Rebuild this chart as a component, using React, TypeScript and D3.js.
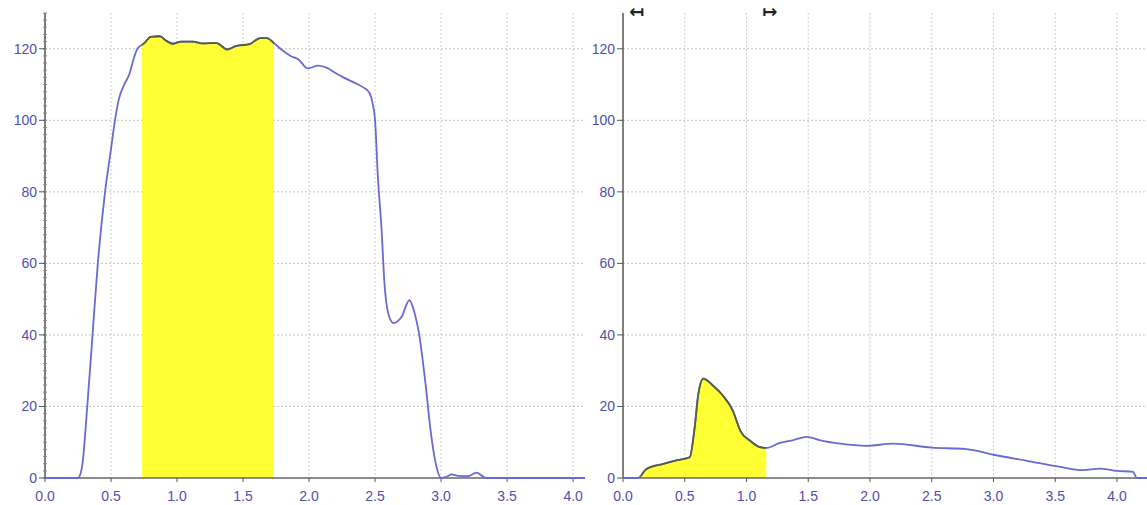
import React, { useEffect, useRef } from "react";
import { select, scaleLinear, line, area, curveMonotoneX, range } from "d3";

// left trace (x in s, y value)
const leftX = [0, 0.25, 0.28, 0.32, 0.36, 0.4, 0.455, 0.5, 0.53, 0.56, 0.6, 0.64, 0.67, 0.7, 0.75, 0.8, 0.87, 0.92, 0.97, 1.03, 1.12, 1.2, 1.3, 1.38, 1.45, 1.55, 1.63, 1.68, 1.74, 1.8, 1.86, 1.92, 1.99, 2.07, 2.14, 2.2, 2.26, 2.36, 2.42, 2.46, 2.48, 2.5, 2.52, 2.55, 2.57, 2.6, 2.64, 2.7, 2.76, 2.8, 2.83, 2.88, 2.92, 2.96, 3.0, 3.04, 3.08, 3.13, 3.2, 3.27, 3.31, 3.34, 4.09];
const leftY = [0, 0, 3, 20, 40, 60, 80, 92, 100, 106, 110, 113, 117, 120, 121.5, 123.3, 123.5, 122.2, 121.4, 122, 122, 121.5, 121.6, 119.8, 120.8, 121.3, 123, 123, 121.4, 119.5, 118, 117, 114.5, 115.3, 114.6, 113.2, 112, 110.2, 109, 107.5, 105, 100, 85, 69, 55, 46, 43.3, 45, 49.7, 46, 41, 27, 13.4, 4, 0, 0.3, 1, 0.6, 0.5, 1.5, 0.6, 0, 0];

// right trace
const rightX = [0, 0.12, 0.19, 0.32, 0.44, 0.54, 0.58, 0.61, 0.65, 0.73, 0.81, 0.89, 0.95, 1.03, 1.11, 1.16, 1.27, 1.38, 1.49, 1.59, 1.76, 1.97, 2.19, 2.5, 2.78, 3.0, 3.27, 3.54, 3.72, 3.86, 4.0, 4.13, 4.16, 4.243];
const rightY = [0, 0, 2.5, 3.9, 5, 5.8, 14, 23.5, 27.8, 25.8, 23, 18.8, 13.2, 10.4, 8.6, 8.4, 9.8, 10.6, 11.5, 10.6, 9.6, 9.0, 9.6, 8.5, 8.1, 6.5, 4.8, 3.1, 2.2, 2.6, 2.0, 1.7, 0, 0];

const xTicks = [0, 0.5, 1, 1.5, 2, 2.5, 3, 3.5, 4];
const yTicks = [0, 20, 40, 60, 80, 100, 120];

const leftBand = [0.735, 1.735];
const rightBand = [0.14, 1.16];

const LINE = "#6a6ad2";
const DARK = "#556040";
const LABEL = "#4f4fb0";

type Panel = {
  id: string;
  xs: number[];
  ys: number[];
  band: number[];
  xMax: number;
  left: number;
  right: number;
  minor: boolean;
  markers: boolean;
};

const panels: Panel[] = [
  { id: "a", xs: leftX, ys: leftY, band: leftBand, xMax: 4.09, left: 45, right: 585, minor: true, markers: false },
  { id: "b", xs: rightX, ys: rightY, band: rightBand, xMax: 4.243, left: 623, right: 1147, minor: false, markers: true },
];

const App = () => {
  const svgRef = useRef<SVGSVGElement>(null);

  useEffect(() => {
    const svg = select(svgRef.current);
    svg.selectAll("*").remove();
    const defs = svg.append("defs");

    panels.forEach((p) => {
      const x = scaleLinear().domain([0, p.xMax]).range([p.left, p.right]);
      const y = scaleLinear().domain([0, 130]).range([478, 13]);
      const data = p.xs.map((v, i) => [v, p.ys[i]] as [number, number]);
      const g = svg.append("g");

      // grid
      g.selectAll(".hg")
        .data(yTicks.filter((t) => t > 0))
        .enter()
        .append("line")
        .attr("x1", p.left)
        .attr("x2", p.right)
        .attr("y1", (d) => y(d))
        .attr("y2", (d) => y(d))
        .attr("stroke", "#c4c4c4")
        .attr("stroke-dasharray", "2,2");
      g.selectAll(".vg")
        .data(xTicks.filter((t) => t > 0))
        .enter()
        .append("line")
        .attr("x1", (d) => x(d))
        .attr("x2", (d) => x(d))
        .attr("y1", y(130))
        .attr("y2", y(0))
        .attr("stroke", "#cfcfcf")
        .attr("stroke-dasharray", "2,2");

      // highlighted band
      defs
        .append("clipPath")
        .attr("id", "band-" + p.id)
        .append("rect")
        .attr("x", x(p.band[0]))
        .attr("width", x(p.band[1]) - x(p.band[0]))
        .attr("y", 0)
        .attr("height", 505);

      const lineGen = line<[number, number]>()
        .x((d) => x(d[0]))
        .y((d) => y(d[1]))
        .curve(curveMonotoneX);
      const areaGen = area<[number, number]>()
        .x((d) => x(d[0]))
        .y0(y(0))
        .y1((d) => y(d[1]))
        .curve(curveMonotoneX);

      g.append("path")
        .datum(data)
        .attr("clip-path", `url(#band-${p.id})`)
        .attr("fill", "#ffff33")
        .attr("d", areaGen);

      // axes
      g.append("line")
        .attr("x1", p.left)
        .attr("x2", p.right)
        .attr("y1", y(0))
        .attr("y2", y(0))
        .attr("stroke", "#666")
        .attr("stroke-width", 1.5);
      g.append("line")
        .attr("x1", p.left)
        .attr("x2", p.left)
        .attr("y1", y(130))
        .attr("y2", y(0))
        .attr("stroke", "#555")
        .attr("stroke-width", 1.5);

      if (p.minor) {
        g.selectAll(".mt")
          .data(range(0, 131, 2))
          .enter()
          .append("line")
          .attr("x1", p.left - 2)
          .attr("x2", p.left + 2)
          .attr("y1", (d) => y(d))
          .attr("y2", (d) => y(d))
          .attr("stroke", "#888");
      }

      // ticks + labels
      g.selectAll(".yt")
        .data(yTicks)
        .enter()
        .append("line")
        .attr("x1", p.left - 6)
        .attr("x2", p.left)
        .attr("y1", (d) => y(d))
        .attr("y2", (d) => y(d))
        .attr("stroke", "#555");
      g.selectAll(".yl")
        .data(yTicks)
        .enter()
        .append("text")
        .attr("x", p.left - 8)
        .attr("y", (d) => y(d))
        .attr("dy", "0.35em")
        .attr("text-anchor", "end")
        .attr("font-family", "Liberation Sans, Arial, sans-serif")
        .attr("font-size", 14)
        .attr("fill", LABEL)
        .text((d) => String(d));
      g.selectAll(".xt")
        .data(xTicks)
        .enter()
        .append("line")
        .attr("x1", (d) => x(d))
        .attr("x2", (d) => x(d))
        .attr("y1", y(0))
        .attr("y2", y(0) + 4)
        .attr("stroke", "#555");
      g.selectAll(".xl")
        .data(xTicks)
        .enter()
        .append("text")
        .attr("x", (d) => x(d))
        .attr("y", 501)
        .attr("text-anchor", "middle")
        .attr("font-family", "Liberation Sans, Arial, sans-serif")
        .attr("font-size", 14)
        .attr("fill", LABEL)
        .text((d) => d.toFixed(1));

      // trace
      g.append("path")
        .datum(data)
        .attr("fill", "none")
        .attr("stroke", LINE)
        .attr("stroke-width", 1.8)
        .attr("d", lineGen);
      g.append("path")
        .datum(data)
        .attr("clip-path", `url(#band-${p.id})`)
        .attr("fill", "none")
        .attr("stroke", DARK)
        .attr("stroke-width", 1.8)
        .attr("d", lineGen);

      if (p.markers) {
        g.append("text")
          .attr("x", x(p.band[0]) + 4)
          .attr("y", 18)
          .attr("text-anchor", "end")
          .attr("font-family", "DejaVu Sans")
          .attr("font-size", 18)
          .attr("font-weight", "bold")
          .attr("fill", "#222")
          .text("↤");
        g.append("text")
          .attr("x", x(p.band[1]) - 4)
          .attr("y", 18)
          .attr("text-anchor", "start")
          .attr("font-family", "DejaVu Sans")
          .attr("font-size", 18)
          .attr("font-weight", "bold")
          .attr("fill", "#222")
          .text("↦");
      }
    });
  }, []);

  return (
    <svg
      ref={svgRef}
      width={1147}
      height={505}
      style={{ position: "absolute", left: 0, top: 0, background: "#fff" }}
    ></svg>
  );
};

export default App;
